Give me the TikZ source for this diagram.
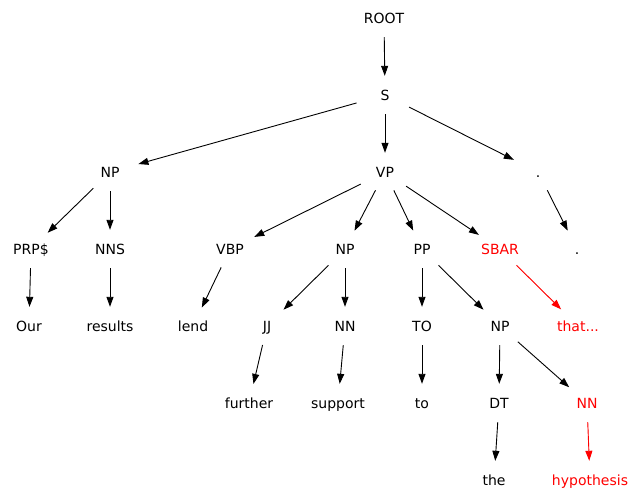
\documentclass[tikz,border=0pt]{standalone}
\usepackage{fontspec}
\setmainfont{DejaVu Sans}
\usetikzlibrary{shapes.geometric,arrows.meta}
\definecolor{hl}{RGB}{255,0,0}
\tikzset{
  tn/.style={shape=ellipse,draw=none,inner xsep=3bp,inner ysep=2bp,
    minimum width=62bp,minimum height=38bp,
    font=\fontsize{14bp}{16bp}\selectfont,text height=10.4bp,text depth=0pt},
  red node/.style={tn,text=hl},
  edge/.style={draw=black,line width=0.9bp,-{Triangle[length=10bp,width=7bp]}},
  red edge/.style={edge,draw=hl,fill=hl}
}
\begin{document}
\begin{tikzpicture}[x=1bp,y=-1bp]
\useasboundingbox (0,0) rectangle (630,490);
\fill[white] (0,0) rectangle (630,490);
% nodes
\node[tn] (root) at (384,18) {ROOT};
\node[tn] (s) at (385,95) {S};
\node[tn] (np1) at (110,172) {NP};
\node[tn] (vp) at (385,172) {VP};
\node[tn] (dot1) at (538,172) {.};
\node[tn] (prp) at (31,249) {PRP\$};
\node[tn] (nns) at (110,249) {NNS};
\node[tn] (vbp) at (230,249) {VBP};
\node[tn] (np2) at (345,249) {NP};
\node[tn] (pp) at (422,249) {PP};
\node[red node] (sbar) at (500,249) {SBAR};
\node[tn] (dot2) at (577,249) {.};
\node[tn] (our) at (29,326) {Our};
\node[tn] (results) at (110,326) {results};
\node[tn] (lend) at (193,326) {lend};
\node[tn] (jj) at (267,326) {JJ};
\node[tn] (nn1) at (345,326) {NN};
\node[tn] (to1) at (422,326) {TO};
\node[tn] (np3) at (500,326) {NP};
\node[red node] (that) at (578,326) {that...};
\node[tn] (further) at (249,403) {further};
\node[tn] (support) at (338,403) {support};
\node[tn] (to2) at (422,403) {to};
\node[tn] (dt) at (499,403) {DT};
\node[red node] (nn2) at (587,403) {NN};
\node[tn] (the) at (494,480) {the};
\node[red node] (hyp) at (590,480) {hypothesis};
% edges
\draw[edge] (root) -- (s);
\draw[edge] (s) -- (np1);
\draw[edge] (s) -- (vp);
\draw[edge] (s) -- (dot1);
\draw[edge] (np1) -- (prp);
\draw[edge] (np1) -- (nns);
\draw[edge] (prp) -- (our);
\draw[edge] (nns) -- (results);
\draw[edge] (vp) -- (vbp);
\draw[edge] (vp) -- (np2);
\draw[edge] (vp) -- (pp);
\draw[edge] (vp) -- (sbar);
\draw[edge] (dot1) -- (dot2);
\draw[edge] (vbp) -- (lend);
\draw[edge] (np2) -- (jj);
\draw[edge] (np2) -- (nn1);
\draw[edge] (pp) -- (to1);
\draw[edge] (pp) -- (np3);
\draw[red edge] (sbar) -- (that);
\draw[edge] (jj) -- (further);
\draw[edge] (nn1) -- (support);
\draw[edge] (to1) -- (to2);
\draw[edge] (np3) -- (dt);
\draw[edge] (np3) -- (nn2);
\draw[edge] (dt) -- (the);
\draw[red edge] (nn2) -- (hyp);
\end{tikzpicture}
\end{document}
